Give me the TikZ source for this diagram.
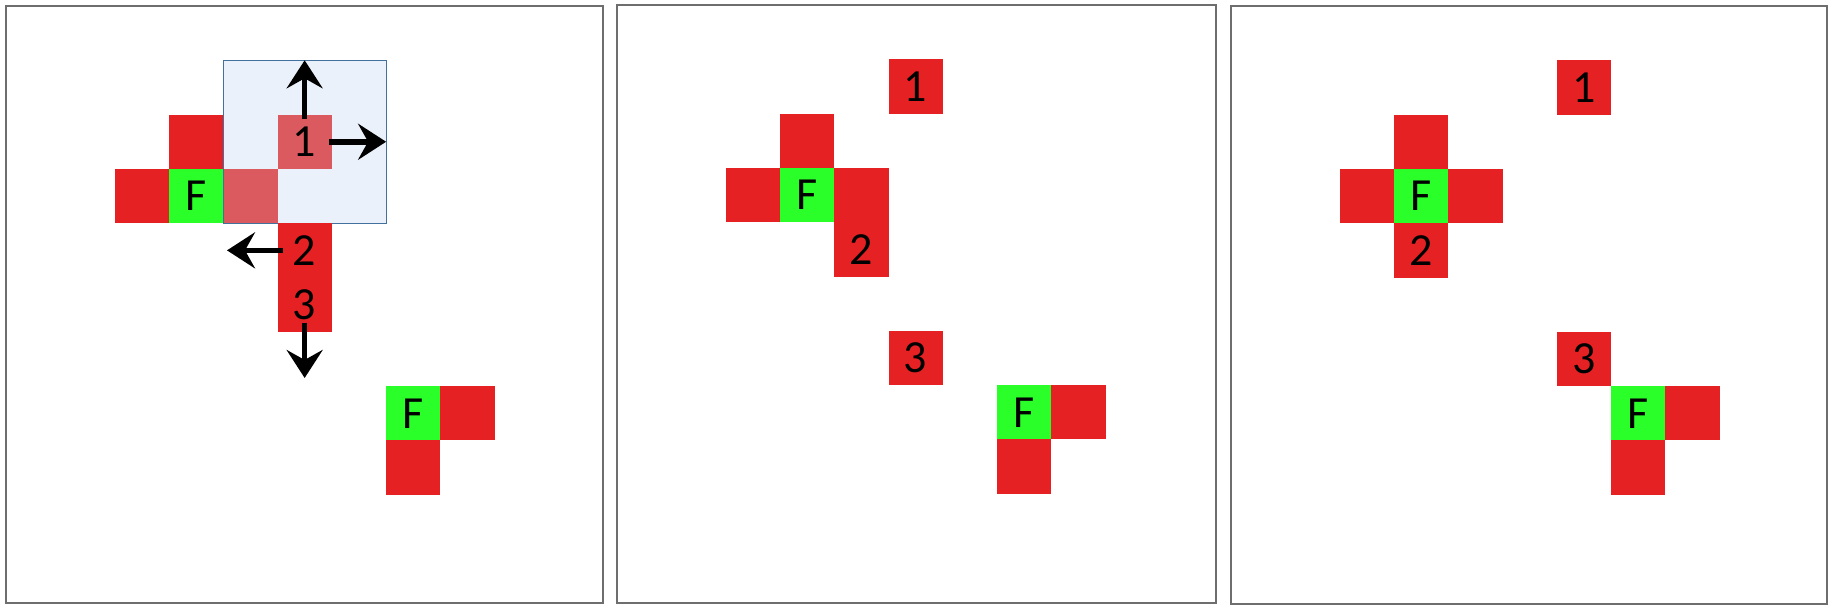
\documentclass[tikz,border=0pt]{standalone}
\usepackage{fontspec}
\setmainfont{Carlito}
\usetikzlibrary{arrows.meta}
\definecolor{redc}{RGB}{229,33,36}
\definecolor{greenc}{RGB}{42,255,42}
\definecolor{fadedc}{RGB}{219,90,96}
\definecolor{bluefill}{RGB}{234,241,250}
\definecolor{blueline}{RGB}{65,113,156}
\definecolor{framec}{RGB}{110,110,110}
\tikzset{
  cell/.style={minimum size=27.15pt, inner sep=0pt, outer sep=0pt, font=\fontsize{23}{26}\selectfont, text=black},
  redcell/.style={cell, fill=redc},
  greencell/.style={cell, fill=greenc},
  fadedcell/.style={cell, fill=fadedc},
  panel/.style={draw=framec, line width=0.75pt},
  arr/.style={line width=2.8pt, -{Stealth[length=14pt, width=18pt, inset=5pt]}},
}
\begin{document}
\begin{tikzpicture}[x=0.5pt, y=-0.5pt]
\useasboundingbox (0,0) rectangle (1833,607);
\fill[white] (0,0) rectangle (1833,607);
% frames
\draw[panel] (6,6) rectangle (603,603);
\draw[panel] (617,5) rectangle (1216,603);
\draw[panel] (1231,6) rectangle (1827,604);

% ---------- panel 1 ----------
\begin{scope}[shift={(6,6)}, x=27.15pt, y=-27.15pt]
  \fill[bluefill] (4,1) rectangle (7,4);
  \node[redcell] (at) at (3.5,2.5) {};
  \node[redcell] (al) at (2.5,3.5) {};
  \node[greencell] (af) at (3.5,3.5) {F};
  \node[fadedcell] (ax) at (4.5,3.5) {};
  \node[fadedcell] (a1) at (5.5,2.5) {1};
  \draw[blueline, line width=0.6pt] (4,1) rectangle (7,4);
  \node[redcell] (a2) at (5.5,4.5) {2};
  \node[redcell] (a3) at (5.5,5.5) {3};
  \node[greencell] (ag) at (7.5,7.5) {F};
  \node[redcell] (ar) at (8.5,7.5) {};
  \node[redcell] (ad) at (7.5,8.5) {};
  \coordinate (tup) at (5.5,1.0);
  \coordinate (tright) at (7.0,2.5);
  \coordinate (tleft) at (4.07,4.5);
  \coordinate (tdown) at (5.5,6.85);
\end{scope}
\draw[arr] ([yshift=-2pt]a1.north) -- (tup);
\draw[arr] ([xshift=-1.2pt]a1.east) -- (tright);
\draw[arr] ([xshift=2.8pt]a2.west) -- (tleft);
\draw[arr] ([yshift=4.5pt]a3.south) -- (tdown);

% ---------- panel 2 ----------
\begin{scope}[shift={(617,5)}, x=27.15pt, y=-27.15pt]
  \node[redcell] (b1) at (5.5,1.5) {1};
  \node[redcell] (bt) at (3.5,2.5) {};
  \node[redcell] (bl) at (2.5,3.5) {};
  \node[greencell] (bf) at (3.5,3.5) {F};
  \node[redcell] (br) at (4.5,3.5) {};
  \node[redcell] (b2) at (4.5,4.5) {2};
  \node[redcell] (b3) at (5.5,6.5) {3};
  \node[greencell] (bg) at (7.5,7.5) {F};
  \node[redcell] (bx) at (8.5,7.5) {};
  \node[redcell] (bd) at (7.5,8.5) {};
\end{scope}

% ---------- panel 3 ----------
\begin{scope}[shift={(1231,6)}, x=27.15pt, y=-27.15pt]
  \node[redcell] (c1) at (6.5,1.5) {1};
  \node[redcell] (ct) at (3.5,2.5) {};
  \node[redcell] (cl) at (2.5,3.5) {};
  \node[greencell] (cf) at (3.5,3.5) {F};
  \node[redcell] (cr) at (4.5,3.5) {};
  \node[redcell] (c2) at (3.5,4.5) {2};
  \node[redcell] (c3) at (6.5,6.5) {3};
  \node[greencell] (cg) at (7.5,7.5) {F};
  \node[redcell] (cx) at (8.5,7.5) {};
  \node[redcell] (cd) at (7.5,8.5) {};
\end{scope}
\end{tikzpicture}
\end{document}
